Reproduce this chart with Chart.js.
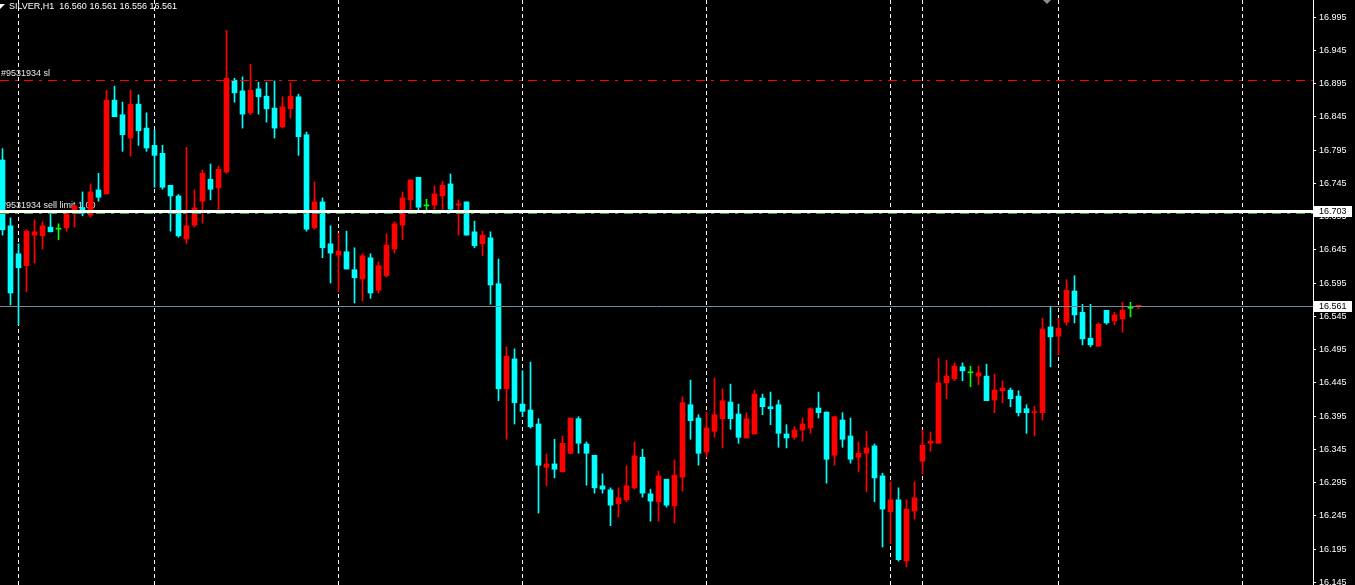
<!DOCTYPE html>
<html>
<head>
<meta charset="utf-8">
<script src="https://cdn.jsdelivr.net/npm/chart.js@4.4.0/dist/chart.umd.min.js"></script>
<style>
  html, body { margin: 0; padding: 0; background: #000; overflow: hidden; }
  canvas { display: block; }
</style>
</head>
<body>
<canvas id="grafico" width="1355" height="585"></canvas>
<script>
// SILVER H1 - velas de izquierda a derecha (O, H, L, C)
var opens = [16.780,16.681,16.639,16.621,16.667,16.666,16.679,16.676,16.678,16.705,
  16.708,16.697,16.735,16.729,16.870,16.848,16.813,16.864,16.828,16.802,
  16.790,16.742,16.726,16.661,16.682,16.718,16.751,16.738,16.762,16.900,
  16.884,16.851,16.887,16.876,16.858,16.830,16.857,16.875,16.818,16.678,
  16.717,16.654,16.637,16.642,16.615,16.601,16.633,16.584,16.606,16.646,
  16.682,16.720,16.754,16.711,16.712,16.726,16.744,16.712,16.717,16.672,
  16.654,16.663,16.594,16.436,16.481,16.413,16.404,16.383,16.318,16.323,
  16.311,16.339,16.391,16.353,16.336,16.290,16.284,16.263,16.269,16.287,
  16.333,16.278,16.266,16.300,16.260,16.303,16.412,16.392,16.341,16.372,
  16.391,16.416,16.398,16.362,16.368,16.422,16.409,16.412,16.368,16.363,
  16.374,16.377,16.407,16.401,16.336,16.389,16.365,16.333,16.339,16.350,
  16.305,16.251,16.269,16.177,16.252,16.327,16.354,16.354,16.445,16.451,
  16.469,16.460,16.455,16.455,16.419,16.433,16.434,16.425,16.406,16.400,
  16.400,16.529,16.515,16.536,16.583,16.551,16.512,16.500,16.554,16.538,
  16.541,16.557,16.560];
var highs = [16.797,16.693,16.654,16.675,16.690,16.687,16.700,16.684,16.700,16.712,
  16.732,16.744,16.760,16.885,16.891,16.867,16.885,16.878,16.851,16.825,
  16.802,16.742,16.728,16.799,16.735,16.765,16.774,16.771,16.975,16.903,
  16.905,16.924,16.897,16.897,16.899,16.875,16.896,16.879,16.822,16.747,
  16.723,16.681,16.670,16.673,16.648,16.639,16.639,16.627,16.669,16.687,
  16.732,16.750,16.754,16.721,16.741,16.748,16.759,16.720,16.717,16.688,
  16.673,16.672,16.631,16.499,16.496,16.463,16.476,16.391,16.338,16.360,
  16.365,16.392,16.394,16.356,16.336,16.308,16.287,16.287,16.320,16.356,
  16.345,16.285,16.312,16.300,16.329,16.424,16.449,16.397,16.401,16.452,
  16.436,16.443,16.413,16.400,16.434,16.428,16.431,16.419,16.382,16.379,
  16.392,16.407,16.431,16.401,16.394,16.400,16.392,16.356,16.372,16.353,
  16.309,16.296,16.287,16.269,16.296,16.374,16.371,16.482,16.479,16.475,
  16.475,16.470,16.470,16.473,16.458,16.448,16.437,16.433,16.412,16.410,
  16.542,16.559,16.542,16.600,16.606,16.563,16.563,16.535,16.554,16.551,
  16.566,16.566,16.561];
var lows = [16.667,16.562,16.532,16.582,16.625,16.646,16.672,16.660,16.673,16.679,
  16.696,16.694,16.718,16.729,16.845,16.793,16.786,16.802,16.793,16.739,
  16.736,16.673,16.664,16.654,16.679,16.685,16.720,16.703,16.760,16.867,
  16.828,16.848,16.849,16.837,16.813,16.828,16.843,16.787,16.673,16.676,
  16.633,16.595,16.582,16.616,16.565,16.568,16.572,16.580,16.604,16.640,
  16.660,16.705,16.705,16.705,16.705,16.705,16.705,16.667,16.667,16.648,
  16.636,16.563,16.418,16.360,16.383,16.394,16.377,16.249,16.290,16.302,
  16.311,16.338,16.339,16.291,16.279,16.279,16.230,16.243,16.266,16.285,
  16.273,16.237,16.237,16.258,16.234,16.282,16.360,16.321,16.333,16.363,
  16.347,16.375,16.354,16.362,16.368,16.397,16.382,16.348,16.347,16.360,
  16.357,16.369,16.392,16.294,16.321,16.348,16.324,16.311,16.281,16.266,
  16.198,16.203,16.177,16.168,16.240,16.308,16.342,16.354,16.421,16.448,
  16.448,16.439,16.442,16.418,16.400,16.415,16.409,16.395,16.369,16.365,
  16.389,16.469,16.487,16.532,16.535,16.502,16.499,16.500,16.533,16.532,
  16.521,16.544,16.556];
var closes = [16.675,16.580,16.618,16.673,16.672,16.681,16.672,16.676,16.700,16.711,
  16.700,16.732,16.724,16.870,16.845,16.818,16.864,16.824,16.798,16.787,
  16.739,16.726,16.666,16.681,16.708,16.760,16.736,16.766,16.903,16.881,
  16.849,16.885,16.875,16.857,16.828,16.860,16.876,16.815,16.676,16.717,
  16.648,16.640,16.643,16.616,16.603,16.636,16.580,16.621,16.652,16.684,
  16.723,16.750,16.709,16.711,16.729,16.742,16.706,16.714,16.667,16.651,
  16.667,16.592,16.436,16.485,16.415,16.402,16.379,16.321,16.323,16.315,
  16.354,16.392,16.354,16.339,16.287,16.285,16.261,16.272,16.290,16.335,
  16.279,16.267,16.305,16.261,16.306,16.415,16.388,16.339,16.377,16.397,
  16.418,16.391,16.363,16.391,16.428,16.409,16.406,16.369,16.362,16.374,
  16.383,16.406,16.400,16.330,16.394,16.360,16.330,16.339,16.347,16.302,
  16.255,16.269,16.179,16.255,16.272,16.351,16.357,16.445,16.455,16.470,
  16.463,16.460,16.460,16.418,16.434,16.437,16.421,16.400,16.400,16.401,
  16.526,16.514,16.527,16.584,16.547,16.511,16.502,16.533,16.535,16.547,
  16.554,16.557,16.561];

// etiquetas del eje de precios
var priceTicks = [16.995,16.945,16.895,16.845,16.795,16.745,16.695,16.645,16.595,
  16.545,16.495,16.445,16.395,16.345,16.295,16.245,16.195,16.145];
// velas donde empieza cada dia (lineas verticales punteadas)
var dayLines = [2, 19, 42, 65, 88, 111, 115, 132, 155];

var titulo = "SILVER,H1  16.560 16.561 16.556 16.561";
var slNivel = 16.900, slTexto = "#9531934 sl";
var limitNivel = 16.703, limitTexto = "#9531934 sell limit 1.00";
var verdeNivel = 16.700;
var bidNivel = 16.561;

var fuente = "9px 'Liberation Sans', Arial, sans-serif";

function colorVela(i) {
  if (closes[i] > opens[i]) return "#ff0000";
  if (closes[i] < opens[i]) return "#00ffff";
  return "#00ff00";
}

var colores = opens.map(function (o, i) { return colorVela(i); });
var cuerpos = opens.map(function (o, i) { return { x: i, y: [o, closes[i]] }; });
var mechas = opens.map(function (o, i) { return { x: i, y: [lows[i], highs[i]] }; });

// lineas de ordenes, cajas de precio y titulo
var extras = {
  id: "extras",
  beforeDatasetsDraw: function (chart) {
    var ctx = chart.ctx, y = chart.scales.y;
    ctx.save();
    ctx.font = fuente;
    ctx.fillStyle = "#e8e8e8";
    ctx.textBaseline = "bottom";
    ctx.fillText(slTexto, 1, Math.round(y.getPixelForValue(slNivel)) - 2);
    ctx.fillText(limitTexto, 1, Math.round(y.getPixelForValue(limitNivel)) - 1);
    ctx.restore();
  },
  afterDatasetsDraw: function (chart) {
    var ctx = chart.ctx, y = chart.scales.y, area = chart.chartArea;
    function linea(v, color, ancho, dash) {
      var py = Math.round(y.getPixelForValue(v)) + (ancho % 2 ? 0.5 : 0);
      ctx.save();
      ctx.strokeStyle = color;
      ctx.lineWidth = ancho;
      ctx.setLineDash(dash);
      ctx.beginPath();
      ctx.moveTo(area.left, py);
      ctx.lineTo(area.right, py);
      ctx.stroke();
      ctx.restore();
    }
    linea(slNivel, "#ff0000", 1, [9, 6, 3, 6]);
    linea(verdeNivel, "#3f9f3f", 1, [9, 6, 3, 6]);
    linea(limitNivel, "#ffffff", 3, []);
    linea(bidNivel, "#778899", 1, []);
  },
  afterDraw: function (chart) {
    var ctx = chart.ctx, y = chart.scales.y, area = chart.chartArea;
    ctx.save();
    ctx.font = fuente;
    ctx.textBaseline = "middle";
    [limitNivel, bidNivel].forEach(function (v) {
      var py = Math.round(y.getPixelForValue(v));
      ctx.fillStyle = "#ffffff";
      ctx.fillRect(area.right + 1, py - 5, 38, 11);
      ctx.fillStyle = "#000000";
      ctx.fillText(v.toFixed(3), area.right + 6, py + 0.5);
    });
    // titulo
    ctx.fillStyle = "#ffffff";
    ctx.beginPath();
    ctx.moveTo(0, 4); ctx.lineTo(5, 4); ctx.lineTo(0, 9);
    ctx.fill();
    ctx.fillText(titulo, 9, 7);
    // marca de desplazamiento arriba
    ctx.fillStyle = "#8c8c8c";
    ctx.beginPath();
    ctx.moveTo(1043, 0); ctx.lineTo(1051, 0); ctx.lineTo(1047, 4);
    ctx.fill();
    ctx.restore();
  }
};

// sin margenes: el area del grafico ocupa todo el alto
function sinPadding(s) {
  s.paddingTop = 0; s.paddingBottom = 0; s.paddingLeft = 0; s.paddingRight = 0;
}

var grafico = document.getElementById("grafico").getContext("2d");
var myChart = new Chart(grafico, {
  type: "bar",
  data: {
    datasets: [
      {
        label: "cuerpo",
        data: cuerpos,
        backgroundColor: colores,
        borderWidth: 0,
        grouped: false,
        maxBarThickness: 5,
        barPercentage: 1,
        categoryPercentage: 1,
        minBarLength: 1
      },
      {
        label: "mecha",
        data: mechas,
        backgroundColor: colores,
        borderWidth: 0,
        grouped: false,
        maxBarThickness: 1,
        barPercentage: 1,
        categoryPercentage: 1,
        minBarLength: 1
      }
    ]
  },
  options: {
    responsive: false,
    devicePixelRatio: 1,
    animation: false,
    layout: { padding: 0 },
    plugins: { legend: { display: false }, tooltip: { enabled: false } },
    scales: {
      x: {
        type: "linear",
        min: -0.3125,
        max: -0.3125 + 1313 / 8,
        offset: false,
        afterBuildTicks: function (s) {
          s.ticks = dayLines.map(function (v) { return { value: v }; });
        },
        afterFit: function (s) { s.height = 0; sinPadding(s); },
        ticks: { display: false },
        grid: { color: "#ffffff", lineWidth: 1, drawTicks: false, offset: false },
        border: { display: false, dash: [4, 3] }
      },
      y: {
        position: "right",
        min: 16.1409,
        max: 17.0206,
        afterBuildTicks: function (s) {
          s.ticks = priceTicks.map(function (v) { return { value: v }; });
        },
        afterFit: function (s) { s.width = 42; sinPadding(s); },
        ticks: {
          color: "#ffffff",
          font: { family: "'Liberation Sans', Arial, sans-serif", size: 9 },
          padding: 3,
          callback: function (v) { return Number(v).toFixed(3); }
        },
        grid: { drawOnChartArea: false, tickLength: 3, tickColor: "#ffffff", color: "#ffffff" },
        border: { display: true, color: "#ffffff", width: 1 }
      }
    }
  },
  plugins: [extras]
});
</script>
</body>
</html>
